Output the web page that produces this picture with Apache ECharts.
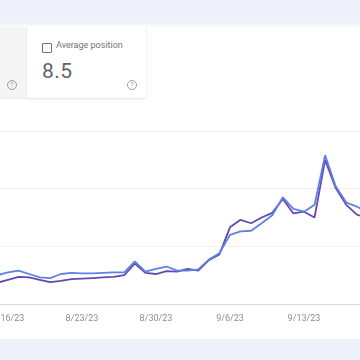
<!DOCTYPE html>
<html>
<head>
<meta charset="utf-8">
<script src="https://cdn.jsdelivr.net/npm/echarts@6/dist/echarts.min.js"></script>
<style>
  html, body { margin:0; padding:0; width:360px; height:360px; overflow:hidden; background:#fff; font-family: Roboto, "Noto Sans", sans-serif; }
  #top { position:absolute; left:0; top:0; width:360px; height:28px; background:linear-gradient(#eef1fa 0px, #eef1fa 22px, #ffffff 28px); }
  #bottom { position:absolute; left:0; top:339px; width:360px; height:21px; background:#eef1fa; }
  #leftcard { position:absolute; left:0; top:27px; width:27px; height:71px; background:#f5f5f5; border-bottom:1px solid #ececec; }
  #card { position:absolute; left:27px; top:26px; width:119px; height:72px; background:#fff; box-shadow:0 1px 2px rgba(0,0,0,0.12); }
  .cb { position:absolute; left:15px; top:17px; width:8px; height:8px; border:1px solid #70757a; border-radius:1px; }
  .lbl { position:absolute; left:29px; top:14px; font-size:9px; color:#70757a; white-space:nowrap; }
  .val { position:absolute; left:15px; top:33px; font-size:21px; color:#5f6368; letter-spacing:0.5px; }
  .q { position:absolute; width:8px; height:8px; border:1px solid #9aa0a6; border-radius:50%; font-size:7px; line-height:8px; text-align:center; color:#9aa0a6; }
  #chart { position:absolute; left:0; top:0; width:360px; height:360px; }
</style>
</head>
<body>
<div id="top"></div>
<div id="bottom"></div>
<div id="leftcard"><div class="q" style="left:7px; top:53px;">?</div></div>
<div id="card">
  <div class="cb"></div>
  <div class="lbl">Average position</div>
  <div class="val">8.5</div>
  <div class="q" style="left:100px; top:54px;">?</div>
</div>
<div id="chart"></div>
<script>
const dates = ['8/15/23','8/16/23','8/17/23','8/18/23','8/19/23','8/20/23','8/21/23','8/22/23','8/23/23','8/24/23','8/25/23','8/26/23','8/27/23','8/28/23','8/29/23','8/30/23','8/31/23','9/1/23','9/2/23','9/3/23','9/4/23','9/5/23','9/6/23','9/7/23','9/8/23','9/9/23','9/10/23','9/11/23','9/12/23','9/13/23','9/14/23','9/15/23','9/16/23','9/17/23','9/18/23','9/19/23'];
const clicks = [50,55,58,52,46,45,52,54,53,53,54,55,55,74,56,61,65,58,58,60,77,88,120,126,127,140,154,185,165,160,172,258,204,176,169,159];
const impressions = [37,42,47,46,42,38,40,43,44,45,46,47,50,70,54,52,57,56,61,58,76,86,133,146,140,150,158,182,157,160,150,250,201,172,155,149];

const chart = echarts.init(document.getElementById('chart'), null, {renderer:'canvas'});
chart.setOption({
  backgroundColor: 'transparent',
  animation: false,
  grid: { left: -2.6, right: -7.4, top: 131, bottom: 56, containLabel: false, outerBoundsMode: 'none' },
  xAxis: {
    type: 'category',
    data: dates,
    boundaryGap: false,
    axisLine: { lineStyle: { color: '#d5d7da', width: 1 } },
    axisTick: { show: false },
    axisLabel: {
      interval: function (i) { return (i - 1) % 7 === 0; },
      color: '#8a8e93',
      fontSize: 9,
      margin: 10,
      fontFamily: 'Roboto'
    },
    splitLine: { show: false }
  },
  yAxis: {
    type: 'value',
    min: 0, max: 300, interval: 100,
    axisLine: { show: false },
    axisTick: { show: false },
    axisLabel: { show: false },
    splitLine: { lineStyle: { color: '#f1f1f3', width: 1 } }
  },
  series: [
    {
      name: 'Impressions', type: 'line', data: impressions,
      symbol: 'none', smooth: false,
      lineStyle: { color: '#6548ad', width: 1.8 },
      z: 2
    },
    {
      name: 'Clicks', type: 'line', data: clicks,
      symbol: 'none', smooth: false,
      lineStyle: { color: '#5f80e4', width: 1.8 },
      z: 3
    }
  ]
});
</script>
</body>
</html>
